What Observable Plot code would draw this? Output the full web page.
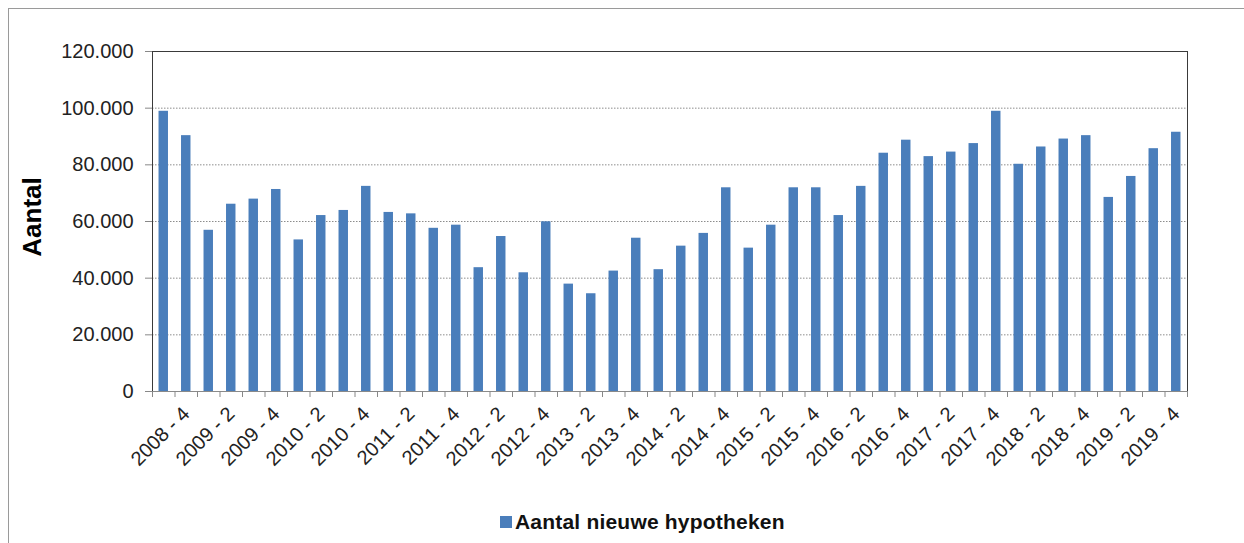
<!DOCTYPE html>
<html><head><meta charset="utf-8">
<script src="https://cdn.jsdelivr.net/npm/d3@7"></script>
<script src="https://cdn.jsdelivr.net/npm/@observablehq/plot@0.6"></script>
<style>
body{margin:0;background:#fff;font-family:"Liberation Sans",Arial,sans-serif;}
#wrap{position:relative;width:1244px;height:543px;overflow:hidden;}
#border{position:absolute;left:8px;top:8px;right:-2px;bottom:-2px;border-left:1px solid #9a9a9a;border-top:1px solid #9a9a9a;}
#chart{position:absolute;left:0;top:0;}
#ylabel{position:absolute;left:32px;top:217px;transform:translate(-50%,-50%) rotate(-90deg);font-size:26px;font-weight:bold;color:#000;white-space:nowrap;}
#legend{position:absolute;left:500px;top:510px;display:flex;align-items:center;font-size:21px;font-weight:bold;color:#111;white-space:nowrap;letter-spacing:0.2px;}
#legend .sw{width:12px;height:12px;background:#4a7ebb;margin-right:3px;}
</style></head>
<body>
<div id="wrap">
  <div id="border"></div>
  <div id="chart"></div>
  <div id="ylabel">Aantal</div>
  <div id="legend"><span class="sw"></span><span>Aantal nieuwe hypotheken</span></div>
</div>
<script>
const quarters = [
  "2008 - 3","2008 - 4",
  "2009 - 1","2009 - 2","2009 - 3","2009 - 4",
  "2010 - 1","2010 - 2","2010 - 3","2010 - 4",
  "2011 - 1","2011 - 2","2011 - 3","2011 - 4",
  "2012 - 1","2012 - 2","2012 - 3","2012 - 4",
  "2013 - 1","2013 - 2","2013 - 3","2013 - 4",
  "2014 - 1","2014 - 2","2014 - 3","2014 - 4",
  "2015 - 1","2015 - 2","2015 - 3","2015 - 4",
  "2016 - 1","2016 - 2","2016 - 3","2016 - 4",
  "2017 - 1","2017 - 2","2017 - 3","2017 - 4",
  "2018 - 1","2018 - 2","2018 - 3","2018 - 4",
  "2019 - 1","2019 - 2","2019 - 3","2019 - 4"
];
const nieuweHypotheken = [
  98900, 90300,
  56900, 66100, 67900, 71300,
  53500, 62100, 63900, 72400,
  63200, 62700, 57600, 58700,
  43700, 54700, 41900, 59900,
  37900, 34500, 42500, 54100,
  43000, 51300, 55800, 71900,
  50600, 58700, 71900, 71900,
  62100, 72400, 84100, 88700,
  82900, 84500, 87500, 98900,
  80200, 86300, 89100, 90300,
  68500, 75900, 85700, 91500
];
const yTicks = [0, 20000, 40000, 60000, 80000, 100000, 120000];
const gridLines = [20000, 40000, 60000, 80000, 100000];
const labeledQuarters = quarters.filter(q => q.endsWith(" - 2") || q.endsWith(" - 4"));
const seriesName = "Aantal nieuwe hypotheken";

const data = quarters.map((q, i) => ({q, v: nieuweHypotheken[i]}));
const nl = d3.formatLocale({decimal: ",", thousands: ".", grouping: [3], currency: ["€ ", ""]});
const fmt = nl.format(",d");

const W = 1244, H = 480, mL = 152, mR = 57, mT = 51, mB = 89;
const step = (W - mL - mR) / quarters.length;
const barColor = "#4a7ebb";

const chart = Plot.plot({
  width: W, height: H,
  marginLeft: mL, marginRight: mR, marginTop: mT, marginBottom: mB,
  style: {fontFamily: "Liberation Sans, Arial, sans-serif", fontSize: "20px", color: "#222", background: "transparent"},
  x: {type: "band", domain: quarters, paddingInner: 0.58, paddingOuter: 0.29, round: false, axis: null, label: null},
  y: {domain: [0, 120000], axis: null, label: null},
  marks: [
    Plot.ruleY(gridLines, {stroke: "#8c8c8c", strokeDasharray: "1.5,1.5"}),
    Plot.barY(data, {x: "q", y: "v", fill: barColor}),
    Plot.frame({stroke: "#3a3a3a"}),
    Plot.ruleY([0], {stroke: "#8a8a8a"}),
    Plot.axisY({ticks: yTicks, tickFormat: fmt, tickSize: 7, tickPadding: 12, stroke: "#888", fontSize: 20, label: null}),
    Plot.axisX({ticks: quarters, tickSize: 6, tickFormat: () => "", dx: -step / 2, stroke: "#888", label: null}),
    Plot.axisX({ticks: [quarters[quarters.length - 1]], tickSize: 6, tickFormat: () => "", dx: step / 2, stroke: "#888", label: null}),
    Plot.axisX({ticks: labeledQuarters, tickSize: 0, tickRotate: -45, tickPadding: 19, fontSize: 20, label: null})
  ]
});
document.getElementById("chart").appendChild(chart);
document.querySelector("#legend span:last-child").textContent = seriesName;
document.querySelector("#legend .sw").style.background = barColor;
</script>
</body></html>
